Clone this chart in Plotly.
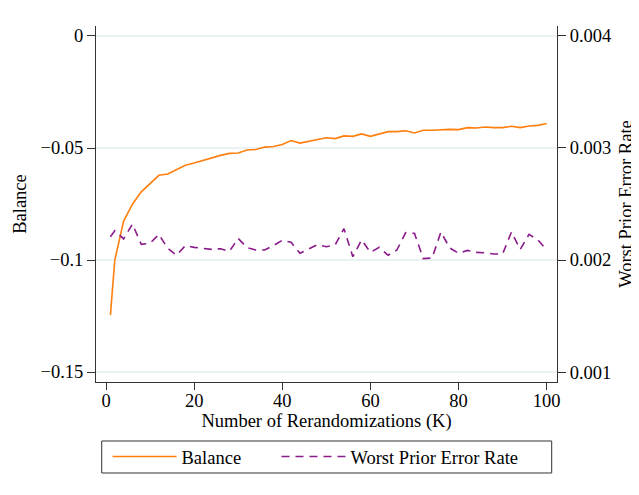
import plotly.graph_objects as go

k_values = [1] + list(range(2, 101, 2))

balance = [
    -0.1246, -0.1000, -0.0826, -0.0751, -0.0696, -0.0661, -0.0622, -0.0616, -0.0595, -0.0577,
    -0.0567, -0.0555, -0.0543, -0.0533, -0.0524, -0.0522, -0.0509, -0.0507, -0.0496, -0.0493,
    -0.0484, -0.0467, -0.0478, -0.0469, -0.0463, -0.0454, -0.0458, -0.0446, -0.0448, -0.0437,
    -0.0448, -0.0439, -0.0427, -0.0427, -0.0423, -0.0433, -0.0421, -0.0421, -0.0418, -0.0417,
    -0.0418, -0.0409, -0.0411, -0.0406, -0.0409, -0.0409, -0.0403, -0.0409, -0.0402, -0.0399,
    -0.0391,
]

worst_prior_error = [
    0.002208, 0.002262, 0.002188, 0.002321, 0.002140, 0.002149, 0.002229, 0.002104, 0.002042, 0.002128,
    0.002113, 0.002101, 0.002095, 0.002101, 0.002077, 0.002193, 0.002110, 0.002089, 0.002089, 0.002128,
    0.002176, 0.002158, 0.002060, 0.002098, 0.002137, 0.002119, 0.002134, 0.002280, 0.002030, 0.002179,
    0.002068, 0.002113, 0.002042, 0.002089, 0.002244, 0.002238, 0.002012, 0.002018, 0.002250, 0.002107,
    0.002060, 0.002086, 0.002068, 0.002065, 0.002054, 0.002054, 0.002250, 0.002095, 0.002229, 0.002179,
    0.002089,
]

left_ticks = [0, -0.05, -0.1, -0.15]
left_ticklabels = ["0", "\u22120.05", "\u22120.1", "\u22120.15"]
right_ticks = [0.001, 0.002, 0.003, 0.004]
right_ticklabels = ["0.001", "0.002", "0.003", "0.004"]
x_ticks = [0, 20, 40, 60, 80, 100]

FONT = "Liberation Serif, Times New Roman, Times, serif"
FS = 18.5
AXIS_COLOR = "#333333"
tickfont = dict(family=FONT, size=FS, color="black")

fig = go.Figure()
fig.add_trace(go.Scatter(
    x=k_values, y=balance, mode="lines", name="Balance",
    line=dict(color="#FF7F0E", width=1.6), legend="legend", showlegend=True,
))
fig.add_trace(go.Scatter(
    x=k_values, y=worst_prior_error, mode="lines", name="Worst Prior Error Rate",
    line=dict(color="#8B1A8B", width=1.6, dash="8px,6px"), yaxis="y2",
    legend="legend2", showlegend=True,
))

# legend frame (paper coordinates)
fig.add_shape(type="rect", xref="paper", yref="paper",
              x0=0.0124, x1=0.9885, y0=-0.2556, y1=-0.1657,
              line=dict(color="#333333", width=1), fillcolor="rgba(0,0,0,0)")

legend_common = dict(
    orientation="h", y=-0.2107, xanchor="left", yanchor="middle",
    borderwidth=0, bgcolor="rgba(0,0,0,0)", itemwidth=64,
    font=dict(family=FONT, size=FS),
)

# the page body adds an 8px offset, so the figure is 8px smaller and margins reduced
fig.update_layout(
    width=631, height=487,
    margin=dict(l=88, r=82, t=18, b=113),
    paper_bgcolor="white", plot_bgcolor="white",
    showlegend=True,
    font=dict(family=FONT, size=FS, color="black"),
    xaxis=dict(
        range=[-2.27, 102.34], tickvals=x_ticks, tickfont=tickfont,
        automargin=False,
        showgrid=False, zeroline=False,
        showline=True, linecolor=AXIS_COLOR, linewidth=1,
        ticks="outside", ticklen=7, tickcolor=AXIS_COLOR,
        ticklabelstandoff=-5,
        title=dict(text="Number of Rerandomizations (K)", standoff=0,
                   font=dict(family=FONT, size=FS)),
    ),
    yaxis=dict(
        range=[-0.15446, 0.00446], tickvals=left_ticks, ticktext=left_ticklabels,
        tickfont=tickfont, automargin=False,
        showgrid=True, gridcolor="#EAF2F3", gridwidth=1.5, zeroline=False,
        showline=True, linecolor=AXIS_COLOR, linewidth=1,
        ticks="outside", ticklen=8, tickcolor=AXIS_COLOR,
        title=dict(text="Balance", standoff=9, font=dict(family=FONT, size=FS)),
    ),
    yaxis2=dict(
        range=[0.000911, 0.004089], tickvals=right_ticks, ticktext=right_ticklabels,
        tickfont=tickfont, automargin=False,
        overlaying="y", side="right",
        showgrid=False, zeroline=False,
        showline=True, linecolor=AXIS_COLOR, linewidth=1,
        ticks="outside", ticklen=8, tickcolor=AXIS_COLOR,
        title=dict(text="Worst Prior Error Rate", standoff=8,
                   font=dict(family=FONT, size=FS)),
    ),
    legend=dict(x=0.025, **legend_common),
    legend2=dict(x=0.3915, **legend_common),
)

fig.write_html("out.html")
